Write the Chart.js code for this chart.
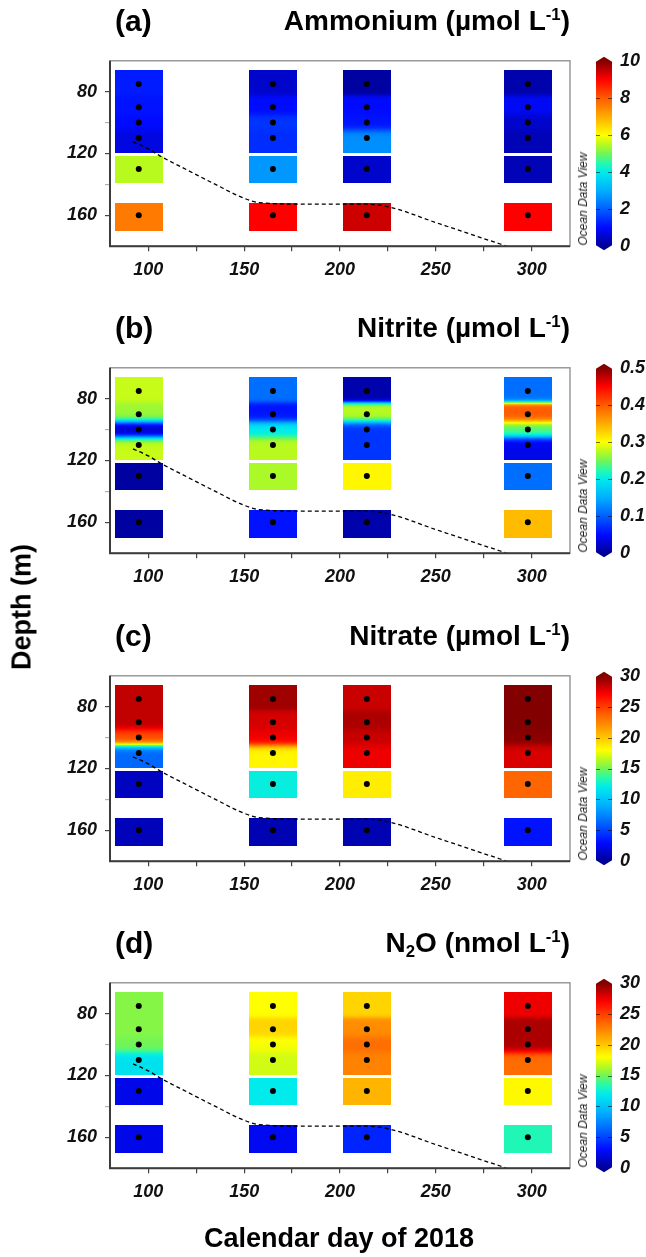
<!DOCTYPE html>
<html>
<head>
<meta charset="utf-8">
<title>Nutrients and N2O vs depth, 2018</title>
<script src="https://cdn.jsdelivr.net/npm/chart.js"></script>
<style>
  body { margin: 0; background: #fff; }
  #fig { position: relative; width: 646px; height: 1257px; font-family: "Liberation Sans", Arial, sans-serif; color: #000; }
  #fig canvas { position: absolute; left: 0; }
  .lab { position: absolute; font-weight: bold; font-size: 30px; line-height: 32px; white-space: nowrap; }
  .ttl { position: absolute; font-weight: bold; font-size: 28px; line-height: 32px; white-space: nowrap; text-align: right; }
  .ttl sup { font-size: 0.6em; position: relative; top: -0.6em; vertical-align: baseline; }
  .ttl sub { font-size: 0.6em; position: relative; top: 0.3em; vertical-align: baseline; }
  .odv { position: absolute; font-style: italic; font-size: 12px; color: #222; white-space: nowrap; transform: translate(-50%, -50%) rotate(-90deg); }
  .axt { position: absolute; font-weight: bold; font-size: 27px; white-space: nowrap; transform: translate(-50%, -50%); }
</style>
</head>
<body>
<div id="fig"></div>
<script>
// --- data ---
const STATION_DAYS = [95, 165, 214, 298];
const SAMPLE_DEPTHS = [75, 90, 100, 110, 130, 160];

// one row per station, one value per sample depth
const AMMONIUM = [
  [1.2, 1.1, 1.0, 0.7, 5.5, 7.6],
  [0.5, 1.0, 1.5, 1.4, 2.7, 9.0],
  [0.1, 1.0, 1.1, 2.6, 0.5, 9.4],
  [0.2, 0.9, 0.5, 0.3, 0.3, 9.0]
];
const NITRITE = [
  [0.28, 0.265, 0.02, 0.28, 0.005, 0.005],
  [0.11, 0.055, 0.2, 0.275, 0.27, 0.055],
  [0.01, 0.275, 0.075, 0.075, 0.305, 0.01],
  [0.11, 0.40, 0.24, 0.04, 0.11, 0.34]
];
const NITRATE = [
  [28.5, 28.5, 24.5, 6.3, 1.2, 1.0],
  [29.3, 28.0, 27.4, 18.3, 12.3, 0.8],
  [28.3, 29.0, 28.3, 27.4, 18.6, 0.8],
  [30.0, 30.0, 29.8, 27.9, 23.6, 3.3]
];
const N2O = [
  [15.4, 15.4, 15.0, 11.5, 2.4, 2.4],
  [18.0, 19.5, 17.8, 17.0, 12.0, 2.6],
  [19.5, 22.1, 23.3, 22.5, 20.6, 3.9],
  [27.4, 29.0, 29.0, 23.3, 18.2, 13.2]
];

// dashed line (mixed layer)
const MLD_DAYS = [92, 100, 106, 120, 135, 150, 158, 183, 214, 226, 250, 270, 287];
const MLD_DEPTH = [112.5, 117, 121.5, 130.5, 140, 149, 151.8, 152.8, 152.8, 154.7, 164.7, 173, 180];

// tick labels
const X_TICKS = [100, 125, 150, 175, 200, 225, 250, 275, 300];
const X_LABELED = [100, 150, 200, 250, 300];
const Y_TICKS = [80, 100, 120, 140, 160];
const Y_LABELED = [80, 120, 160];
const NH4_TICKS = [0, 2, 4, 6, 8, 10];
const NO2_TICKS = [0, 0.1, 0.2, 0.3, 0.4, 0.5];
const NO3_TICKS = [0, 5, 10, 15, 20, 25, 30];
const N2O_TICKS = [0, 5, 10, 15, 20, 25, 30];

// --- layout / style ---
const PANEL_TOP = [0, 307, 615, 922];
const PANEL_H = 307;
const HALF_W = 12.5;       // half width of a station block, in days
// depth ranges of the coloured blocks and which samples feed them
const BLOCKS = [[66, 119.4, [0, 1, 2, 3]], [121.4, 139, [4]], [152, 170, [5]]];
const FONT = '"Liberation Sans", Arial, sans-serif';

// ODV-like rainbow colour map
const CMAP = [
  [0.00, 0, 0, 150],
  [0.10, 0, 10, 255],
  [0.20, 0, 95, 255],
  [0.30, 0, 175, 255],
  [0.40, 0, 235, 235],
  [0.45, 40, 250, 170],
  [0.50, 115, 245, 85],
  [0.55, 185, 250, 30],
  [0.60, 255, 255, 0],
  [0.70, 255, 170, 0],
  [0.80, 255, 90, 0],
  [0.90, 255, 0, 0],
  [1.00, 130, 0, 0]
];

function colorAt(f) {
  f = Math.max(0, Math.min(1, f));
  for (let i = 1; i < CMAP.length; i++) {
    if (f <= CMAP[i][0]) {
      const a = CMAP[i - 1], b = CMAP[i];
      const t = (f - a[0]) / (b[0] - a[0]);
      const c = [1, 2, 3].map(k => Math.round(a[k] + (b[k] - a[k]) * t));
      return `rgb(${c[0]},${c[1]},${c[2]})`;
    }
  }
  return 'rgb(130,0,0)';
}

// gaussian weighted value between samples (rough imitation of ODV gridding)
function blend(d, depths, vals) {
  let sw = 0, sv = 0;
  depths.forEach((z, i) => {
    const w = Math.exp(-Math.pow((d - z) / 5, 2));
    sw += w; sv += w * vals[i];
  });
  return sw > 0 ? sv / sw : vals[0];
}

const PANELS = [
  { tag: '(a)', title: 'Ammonium (µmol L<sup>-1</sup>)', values: AMMONIUM, ticks: NH4_TICKS },
  { tag: '(b)', title: 'Nitrite (µmol L<sup>-1</sup>)', values: NITRITE, ticks: NO2_TICKS },
  { tag: '(c)', title: 'Nitrate (µmol L<sup>-1</sup>)', values: NITRATE, ticks: NO3_TICKS },
  { tag: '(d)', title: 'N<sub>2</sub>O (nmol L<sup>-1</sup>)', values: N2O, ticks: N2O_TICKS }
];

// coloured station blocks
const blocksPlugin = {
  id: 'blocks',
  beforeDatasetsDraw(chart, args, opts) {
    const ctx = chart.ctx, x = chart.scales.x, y = chart.scales.y;
    const vmax = opts.ticks[opts.ticks.length - 1];
    ctx.save();
    STATION_DAYS.forEach((day, s) => {
      const x0 = Math.round(x.getPixelForValue(day - HALF_W));
      const x1 = Math.round(x.getPixelForValue(day + HALF_W));
      BLOCKS.forEach(([d0, d1, idx]) => {
        const p0 = Math.round(y.getPixelForValue(d0));
        const p1 = Math.round(y.getPixelForValue(d1));
        const zs = idx.map(i => SAMPLE_DEPTHS[i]);
        const vs = idx.map(i => opts.values[s][i]);
        for (let py = p0; py < p1; py++) {
          const v = blend(y.getValueForPixel(py + 0.5), zs, vs);
          ctx.fillStyle = colorAt(v / vmax);
          ctx.fillRect(x0, py, x1 - x0, 1);
        }
      });
    });
    ctx.restore();
  }
};

// plot frame: grey box, darker left and bottom axes
const framePlugin = {
  id: 'frame',
  afterDatasetsDraw(chart) {
    const { ctx, chartArea: a } = chart;
    ctx.save();
    ctx.strokeStyle = '#8a8a8a';
    ctx.lineWidth = 1.3;
    ctx.strokeRect(a.left, a.top, a.right - a.left, a.bottom - a.top);
    ctx.strokeStyle = '#3c3c3c';
    ctx.lineWidth = 2;
    ctx.beginPath();
    ctx.moveTo(a.left, a.top);
    ctx.lineTo(a.left, a.bottom);
    ctx.lineTo(a.right, a.bottom);
    ctx.stroke();
    ctx.restore();
  }
};

// colour bar drawn on the cb scale
const colorbarPlugin = {
  id: 'colorbar',
  afterDraw(chart, args, opts) {
    const ctx = chart.ctx, cb = chart.scales.cb;
    const vmax = opts.ticks[opts.ticks.length - 1];
    const top = cb.getPixelForValue(vmax), bot = cb.getPixelForValue(0);
    const x0 = cb.left + 26, w = 16;
    const g = ctx.createLinearGradient(0, bot, 0, top);
    CMAP.forEach(c => g.addColorStop(c[0], `rgb(${c[1]},${c[2]},${c[3]})`));
    ctx.save();
    ctx.beginPath();
    ctx.moveTo(x0, top + 1);
    ctx.lineTo(x0 + w / 2, top - 4);
    ctx.lineTo(x0 + w, top + 1);
    ctx.lineTo(x0 + w, bot - 1);
    ctx.lineTo(x0 + w / 2, bot + 4);
    ctx.lineTo(x0, bot - 1);
    ctx.closePath();
    ctx.fillStyle = g;
    ctx.fill();
    ctx.strokeStyle = 'rgba(0,0,0,0.55)';
    ctx.lineWidth = 1.2;
    opts.ticks.slice(1, -1).forEach(v => {
      const py = Math.round(cb.getPixelForValue(v)) + 0.5;
      ctx.beginPath();
      ctx.moveTo(x0, py); ctx.lineTo(x0 + 4, py);
      ctx.moveTo(x0 + w - 4, py); ctx.lineTo(x0 + w, py);
      ctx.stroke();
    });
    ctx.restore();
  }
};

const tickFont = { family: FONT, size: 18, weight: 'bold', style: 'italic' };

function makePanel(p, i) {
  const fig = document.getElementById('fig');
  const top = PANEL_TOP[i];

  const canvas = document.createElement('canvas');
  canvas.width = 646;
  canvas.height = PANEL_H;
  canvas.style.top = top + 'px';
  fig.appendChild(canvas);

  const tag = document.createElement('div');
  tag.className = 'lab';
  tag.style.left = '115px';
  tag.style.top = (top + 5) + 'px';
  tag.innerHTML = p.tag;
  fig.appendChild(tag);

  const ttl = document.createElement('div');
  ttl.className = 'ttl';
  ttl.style.right = '76px';
  ttl.style.top = (top + 5) + 'px';
  ttl.innerHTML = p.title;
  fig.appendChild(ttl);

  const odv = document.createElement('div');
  odv.className = 'odv';
  odv.style.left = '583px';
  odv.style.top = (top + 199) + 'px';
  odv.textContent = 'Ocean Data View';
  fig.appendChild(odv);

  const points = [];
  STATION_DAYS.forEach(d => SAMPLE_DEPTHS.forEach(z => points.push({ x: d, y: z })));

  new Chart(canvas, {
    type: 'scatter',
    data: {
      datasets: [
        {
          type: 'line',
          data: MLD_DAYS.map((d, k) => ({ x: d, y: MLD_DEPTH[k] })),
          showLine: true,
          borderColor: '#000',
          borderWidth: 1.3,
          borderDash: [4, 3],
          pointRadius: 0,
          tension: 0.4,
          cubicInterpolationMode: 'monotone',
          fill: false,
          order: 2
        },
        {
          data: points,
          pointRadius: 3,
          pointBackgroundColor: '#000',
          pointBorderWidth: 0,
          order: 1
        }
      ]
    },
    options: {
      responsive: false,
      animation: false,
      events: [],
      layout: { padding: { top: 43, bottom: 30, left: 0, right: 0 } },
      plugins: {
        legend: { display: false },
        tooltip: { enabled: false },
        blocks: { values: p.values, ticks: p.ticks },
        colorbar: { ticks: p.ticks }
      },
      scales: {
        x: {
          type: 'linear', min: 80, max: 320,
          afterBuildTicks: s => { s.ticks = X_TICKS.map(v => ({ value: v })); },
          afterFit: s => { s.height = 30; },
          grid: { drawOnChartArea: false, drawTicks: true, tickLength: 5, color: '#444', lineWidth: 1.2 },
          border: { display: false },
          ticks: {
            autoSkip: false, maxRotation: 0, padding: 8, color: '#111', font: tickFont,
            callback: v => X_LABELED.includes(v) ? String(v) : ''
          }
        },
        y: {
          type: 'linear', min: 60, max: 180, reverse: true,
          afterBuildTicks: s => { s.ticks = Y_TICKS.map(v => ({ value: v })); },
          afterFit: s => { s.width = 110; },
          grid: {
            drawOnChartArea: false, drawTicks: true, tickLength: 5, lineWidth: 1.2,
            color: c => (c.tick && Y_LABELED.includes(c.tick.value)) ? '#444' : '#b0b0b0'
          },
          border: { display: false },
          ticks: {
            autoSkip: false, padding: 8, color: '#111', font: tickFont,
            callback: v => Y_LABELED.includes(v) ? String(v) : ''
          }
        },
        cb: {
          type: 'linear', axis: 'y', position: 'right', min: 0, max: p.ticks[p.ticks.length - 1],
          afterBuildTicks: s => { s.ticks = p.ticks.map(v => ({ value: v })); },
          afterFit: s => { s.width = 76; },
          grid: { display: false, drawTicks: false },
          border: { display: false },
          ticks: { autoSkip: false, padding: 50, color: '#111', font: tickFont, callback: v => String(v) }
        }
      }
    },
    plugins: [blocksPlugin, framePlugin, colorbarPlugin]
  });
}

PANELS.forEach(makePanel);

// shared axis titles
const fig = document.getElementById('fig');
const ylab = document.createElement('div');
ylab.className = 'axt';
ylab.style.left = '22px';
ylab.style.top = '607px';
ylab.style.transform = 'translate(-50%, -50%) rotate(-90deg)';
ylab.textContent = 'Depth (m)';
fig.appendChild(ylab);

const xlab = document.createElement('div');
xlab.className = 'axt';
xlab.style.left = '339px';
xlab.style.top = '1238px';
xlab.textContent = 'Calendar day of 2018';
fig.appendChild(xlab);
</script>
</body>
</html>
